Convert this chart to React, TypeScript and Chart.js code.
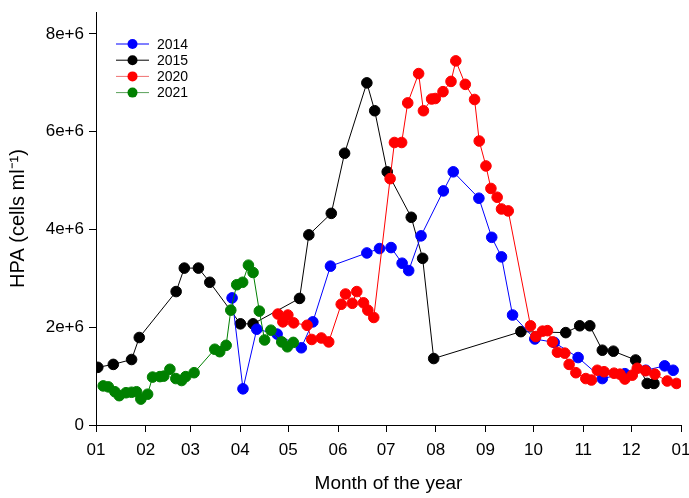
import React, { useEffect, useRef } from "react";
import { Chart, registerables } from "chart.js";

Chart.register(...registerables);

// x = day of year (0 = 1 January), y = HPA (cells per ml)
const days2014 = [84.9, 91.7, 100.3, 113, 128.1, 135.3, 146.3, 169, 176.9, 184.1, 191, 195.1, 202.8, 216.7, 222.9, 238.9, 246.9, 253, 259.9, 273.8, 285.9, 300.8, 315.9, 330, 343, 354.8, 360.1];
const vals2014 = [2.6e6, 0.74e6, 1.96e6, 1.86e6, 1.58e6, 2.11e6, 3.25e6, 3.52e6, 3.61e6, 3.63e6, 3.31e6, 3.16e6, 3.87e6, 4.79e6, 5.18e6, 4.64e6, 3.84e6, 3.44e6, 2.25e6, 1.76e6, 1.69e6, 1.38e6, 0.95e6, 1.05e6, 1.12e6, 1.21e6, 1.12e6];

const days2015 = [1.1, 10.8, 22.2, 27, 50, 55.1, 63.9, 71, 90.1, 98, 127, 132.8, 146.8, 155.1, 169, 173.9, 181.7, 196.7, 203.8, 210.7, 265.1, 293.1, 301.8, 308.1, 315.9, 322.8, 336.7, 343.9, 348.1];
const vals2015 = [1.18e6, 1.24e6, 1.34e6, 1.79e6, 2.73e6, 3.21e6, 3.21e6, 2.92e6, 2.07e6, 2.07e6, 2.59e6, 3.89e6, 4.33e6, 5.56e6, 7.0e6, 6.43e6, 5.18e6, 4.25e6, 3.41e6, 1.36e6, 1.91e6, 1.89e6, 2.03e6, 2.03e6, 1.53e6, 1.51e6, 1.33e6, 0.85e6, 0.85e6];

const days2020 = [113.5, 116.6, 119.7, 123.3, 131.7, 134.6, 140.6, 145.2, 153, 155.7, 159.9, 162.7, 166.9, 169.6, 173.3, 183.5, 186.2, 190.7, 194.5, 201.3, 204.3, 209.4, 211.7, 216.5, 221.5, 224.5, 230.4, 236.2, 239.1, 243.3, 246.4, 250.3, 253, 257.2, 271.1, 274.4, 278.6, 281.7, 284.8, 287.9, 292.5, 295.2, 299.4, 305.6, 309.1, 312.8, 317, 323.2, 326.9, 330, 334.6, 337.7, 342.9, 348.7, 356.4, 362.2];
const vals2020 = [2.27e6, 2.11e6, 2.25e6, 2.09e6, 2.04e6, 1.75e6, 1.78e6, 1.7e6, 2.47e6, 2.68e6, 2.49e6, 2.73e6, 2.5e6, 2.35e6, 2.2e6, 5.04e6, 5.78e6, 5.78e6, 6.59e6, 7.19e6, 6.43e6, 6.67e6, 6.68e6, 6.82e6, 7.03e6, 7.45e6, 6.97e6, 6.66e6, 5.81e6, 5.3e6, 4.84e6, 4.66e6, 4.42e6, 4.38e6, 2.03e6, 1.81e6, 1.92e6, 1.93e6, 1.7e6, 1.49e6, 1.47e6, 1.24e6, 1.07e6, 0.95e6, 0.92e6, 1.12e6, 1.09e6, 1.06e6, 1.04e6, 0.94e6, 1.02e6, 1.16e6, 1.11e6, 1.04e6, 0.9e6, 0.85e6];

const days2021 = [4.5, 7.7, 11.8, 14.5, 18.7, 22.2, 25.3, 28, 32.2, 35.3, 39.9, 42.3, 46.1, 49.8, 53.4, 56, 61.2, 74.1, 77.2, 81.2, 84.1, 87.8, 91.5, 95.1, 98, 101.9, 105.2, 109.1, 115.9, 119.4, 123.1];
const vals2021 = [0.8e6, 0.78e6, 0.68e6, 0.6e6, 0.66e6, 0.67e6, 0.68e6, 0.53e6, 0.63e6, 0.98e6, 0.99e6, 1.0e6, 1.14e6, 0.95e6, 0.91e6, 0.99e6, 1.07e6, 1.55e6, 1.5e6, 1.63e6, 2.35e6, 2.87e6, 2.92e6, 3.27e6, 3.12e6, 2.33e6, 1.74e6, 1.94e6, 1.7e6, 1.6e6, 1.69e6];

const monthStartDays = [0, 31, 59, 90, 120, 151, 181, 212, 243, 273, 304, 334, 365];
const monthLabels = ["01", "02", "03", "04", "05", "06", "07", "08", "09", "10", "11", "12", "01"];
const yTickValues = [0, 2e6, 4e6, 6e6, 8e6];

const seriesNames = ["2014", "2015", "2020", "2021"];
const seriesColors = ["#0000ff", "#000000", "#ff0000", "#008000"];
const legendLineColors = ["#0000ff", "#000000", "#f07070", "#5aa05a"];

const FONT = "'Liberation Sans', Arial, Helvetica, sans-serif";

function pts(xs: number[], ys: number[]) {
  return xs.map((x, i) => ({ x, y: ys[i] }));
}

const legendPlugin = {
  id: "insideLegend",
  afterDraw(chart: any) {
    const ctx = chart.ctx;
    ctx.save();
    seriesNames.forEach((name, i) => {
      const y = 44 + i * 16.2;
      ctx.strokeStyle = legendLineColors[i];
      ctx.lineWidth = 1;
      ctx.beginPath();
      ctx.moveTo(116, y);
      ctx.lineTo(149, y);
      ctx.stroke();
      ctx.fillStyle = seriesColors[i];
      ctx.beginPath();
      ctx.arc(132.5, y, 5, 0, Math.PI * 2);
      ctx.fill();
      ctx.fillStyle = "#000";
      ctx.font = "14px " + FONT;
      ctx.textBaseline = "middle";
      ctx.textAlign = "left";
      ctx.fillText(name, 157, y + 1);
    });
    ctx.restore();
  },
};

export default function App() {
  const ref = useRef<HTMLCanvasElement | null>(null);

  useEffect(() => {
    if (!ref.current) return;
    Chart.defaults.font.family = FONT;
    const series = [
      { d: days2014, v: vals2014, order: 2 },
      { d: days2015, v: vals2015, order: 3 },
      { d: days2020, v: vals2020, order: 1 },
      { d: days2021, v: vals2021, order: 0 },
    ];
    const chart = new Chart(ref.current, {
      type: "scatter",
      data: {
        datasets: series.map((s, i) => ({
          label: seriesNames[i],
          data: pts(s.d, s.v),
          showLine: true,
          borderColor: seriesColors[i],
          backgroundColor: seriesColors[i],
          pointBackgroundColor: seriesColors[i],
          pointBorderColor: seriesColors[i],
          pointRadius: 5.3,
          pointBorderWidth: 1,
          borderWidth: 1,
          tension: 0,
          order: s.order,
        })),
      },
      options: {
        animation: false,
        responsive: false,
        devicePixelRatio: 1,
        layout: { padding: { top: 12, right: 8, left: 0, bottom: 0 } },
        plugins: {
          legend: { display: false },
          tooltip: { enabled: false },
        },
        scales: {
          x: {
            type: "linear",
            min: 0,
            max: 365,
            afterBuildTicks: (axis: any) => {
              axis.ticks = monthStartDays.map((v) => ({ value: v }));
            },
            afterFit: (scale: any) => {
              scale.height = 73;
              scale.paddingRight = 0;
              scale.paddingLeft = 0;
            },
            ticks: {
              autoSkip: false,
              maxRotation: 0,
              color: "#000",
              font: { size: 17 },
              padding: 8,
              callback: (_v: any, idx: number) => monthLabels[idx],
            },
            grid: {
              drawOnChartArea: false,
              drawTicks: true,
              tickLength: 7,
              color: "#000",
            },
            border: { display: true, color: "#000", width: 1 },
            title: {
              display: true,
              text: "Month of the year",
              color: "#000",
              font: { size: 19 },
              padding: { top: 4, bottom: 3 },
            },
          },
          y: {
            type: "linear",
            min: 0,
            max: 8.45e6,
            afterBuildTicks: (axis: any) => {
              axis.ticks = yTickValues.map((v) => ({ value: v }));
            },
            afterFit: (scale: any) => {
              scale.width = 96;
              scale.paddingTop = 0;
              scale.paddingBottom = 0;
            },
            ticks: {
              color: "#000",
              font: { size: 17 },
              padding: 5,
              callback: (v: any) => (v === 0 ? "0" : v / 1e6 + "e+6"),
            },
            grid: {
              drawOnChartArea: false,
              drawTicks: true,
              tickLength: 7,
              color: "#000",
            },
            border: { display: true, color: "#000", width: 1 },
            title: {
              display: true,
              text: "HPA (cells ml\u207B\u00B9)",
              color: "#000",
              font: { size: 20 },
              padding: { top: 6, bottom: 4 },
            },
          },
        },
      },
      plugins: [legendPlugin],
    } as any);
    return () => chart.destroy();
  }, []);

  return (
    <div style={{ position: "fixed", left: 0, top: 0, width: 689, height: 498, background: "#fff" }}>
      <canvas ref={ref} width={689} height={498} style={{ width: 689, height: 498, display: "block" }} />
    </div>
  );
}
